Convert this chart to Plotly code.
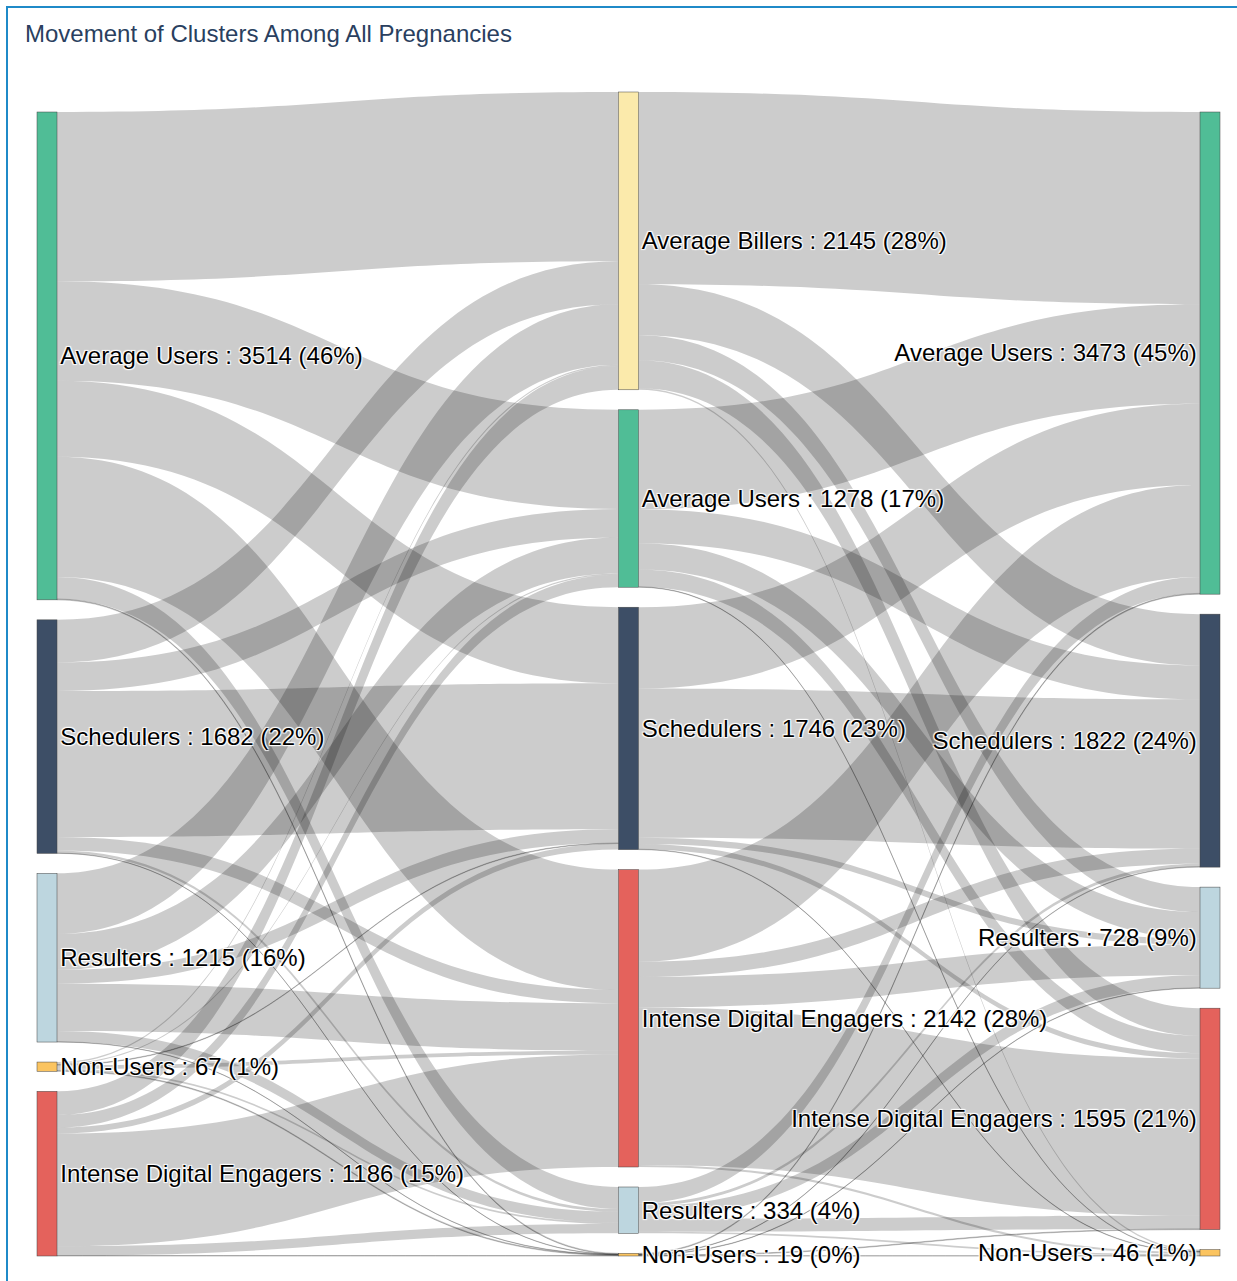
import plotly.graph_objects as go

# Cluster names per stage (top-to-bottom order within each column)
stage1_names = ["Average Users", "Schedulers", "Resulters", "Non-Users", "Intense Digital Engagers"]
stage2_names = ["Average Billers", "Average Users", "Schedulers", "Intense Digital Engagers", "Resulters", "Non-Users"]
stage3_names = ["Average Users", "Schedulers", "Resulters", "Intense Digital Engagers", "Non-Users"]

# Pregnancies moving from stage 1 (rows) to stage 2 (columns)
flow_1_to_2 = [
    [1220, 715, 548, 866, 159, 6],
    [308, 205, 1051, 97, 19, 2],
    [436, 260, 99, 341, 77, 2],
    [10, 8, 4, 27, 12, 6],
    [171, 90, 44, 811, 67, 3],
]

# Pregnancies moving from stage 2 (rows) to stage 3 (columns)
flow_2_to_3 = [
    [1385, 368, 180, 200, 12],
    [716, 245, 190, 124, 3],
    [585, 1075, 45, 38, 3],
    [663, 110, 220, 1134, 15],
    [118, 21, 90, 94, 11],
    [6, 3, 3, 5, 2],
]

cluster_colors = {
    "Average Users": "#50bd96",
    "Schedulers": "#3d4e66",
    "Resulters": "#bdd6df",
    "Non-Users": "#fbc460",
    "Intense Digital Engagers": "#e4625c",
    "Average Billers": "#fbeaab",
}

# Node totals derived from the flows
stage1_tot = [sum(row) for row in flow_1_to_2]
stage2_tot = [sum(flow_1_to_2[i][j] for i in range(len(stage1_names))) for j in range(len(stage2_names))]
stage3_tot = [sum(flow_2_to_3[i][j] for i in range(len(stage2_names))) for j in range(len(stage3_names))]
grand = sum(stage1_tot)

W, H = 1237, 1281
M_L, M_R, M_T, M_B = 37, 17, 92, 25
PAD, THICK = 20, 20
plot_w = W - M_L - M_R
plot_h = H - M_T - M_B

columns = [(stage1_names, stage1_tot), (stage2_names, stage2_tot), (stage3_names, stage3_tot)]
max_nodes = max(len(n) for n, _ in columns)
ky = (plot_h - (max_nodes - 1) * PAD) / grand
col_x = [THICK / 2 / plot_w, 0.5, 1 - THICK / 2 / plot_w]


def lab(name, n):
    return f"{name} : {n} ({round(100 * n / grand)}%)"


labels, colors, node_x, node_y = [], [], [], []
for c, (names, tots) in enumerate(columns):
    # each column is stacked in order and aligned to the bottom of the plot
    span = sum(tots) * ky + (len(tots) - 1) * PAD
    y = plot_h - span
    for nm, t in zip(names, tots):
        h = t * ky
        labels.append(lab(nm, t))
        colors.append(cluster_colors[nm])
        node_x.append(col_x[c])
        node_y.append((y + h / 2) / plot_h)
        y += h + PAD

off2 = len(stage1_names)
off3 = off2 + len(stage2_names)

src, tgt, val = [], [], []
for i, row in enumerate(flow_1_to_2):
    for j, v in enumerate(row):
        src.append(i)
        tgt.append(off2 + j)
        val.append(v)
for i, row in enumerate(flow_2_to_3):
    for j, v in enumerate(row):
        src.append(off2 + i)
        tgt.append(off3 + j)
        val.append(v)

fig = go.Figure(
    go.Sankey(
        arrangement="fixed",
        node=dict(
            label=labels,
            color=colors,
            x=node_x,
            y=node_y,
            pad=PAD,
            thickness=THICK,
            line=dict(color="#444444", width=0.5),
        ),
        link=dict(source=src, target=tgt, value=val, color="rgba(0,0,0,0.2)"),
        textfont=dict(family="Liberation Sans, Arial, sans-serif", size=24, color="#000000"),
    )
)

fig.update_layout(
    width=W,
    height=H,
    margin=dict(l=M_L, r=M_R, t=M_T, b=M_B),
    paper_bgcolor="white",
    title=dict(
        text="Movement of Clusters Among All Pregnancies",
        x=25 / W,
        xref="container",
        xanchor="left",
        y=1 - 34 / H,
        yref="container",
        yanchor="middle",
        font=dict(family="Liberation Sans, Arial, sans-serif", size=24, color="#2a3f5f"),
    ),
    font=dict(family="Liberation Sans, Arial, sans-serif"),
)

# Frame around the chart
fig.add_shape(
    type="rect",
    xref="paper",
    yref="paper",
    x0=(7 - M_L) / plot_w,
    x1=(1250 - M_L) / plot_w,
    y0=1 + (M_T - 7) / plot_h,
    y1=-1,
    line=dict(color="#1f8ac8", width=2),
    fillcolor="rgba(0,0,0,0)",
    layer="below",
)

fig.write_html("out.html")
